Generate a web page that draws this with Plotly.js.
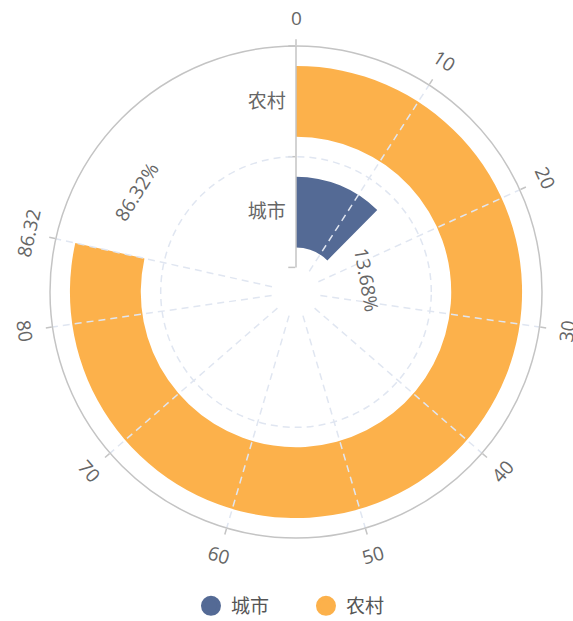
<!DOCTYPE html>
<html><head><meta charset="utf-8">
<script src="https://cdn.plot.ly/plotly-3.0.1.min.js"></script>
<style>html,body{margin:0;padding:0;background:#fff}#chart{width:573px;height:621px}</style>
</head><body><div id="chart"></div>
<script>
// ---- data ----
const categories = ['城市', '农村'];
const values = [13.68, 86.32];
const percentLabels = ['13.68%', '86.32%'];
const angleTicks = [0, 10, 20, 30, 40, 50, 60, 70, 80, 86.32];
const angleTickLabels = ['0', '10', '20', '30', '40', '50', '60', '70', '80', '86.32'];
const angleAxisMax = 110;

// ---- styling / geometry ----
const W = 573, H = 621;
const CX = 296, CY = 292, R = 246, HOLE = 0.1;
const colors = ['#546a95', '#fcb14b'];
const font = "'Open Sans','Noto Sans CJK SC',sans-serif";
const textColor = '#666';
const axisColor = '#c4c4c4';
const gridColor = '#e0e6f1';
const barFrac = 0.64;
const tickLabelRadiusPx = 274;
const labelRadiusPx = [72, 188];
const labelOffsetDeg = [35.3, 19.5];

const deg = v => v * 360 / angleAxisMax;
const domain = {x: [(CX - R) / W, (CX + R) / W], y: [1 - (CY + R) / H, 1 - (CY - R) / H]};
function toPaper(rpx, a) {
  const t = a * Math.PI / 180;
  return {x: (CX + rpx * Math.sin(t)) / W, y: 1 - (CY - rpx * Math.cos(t)) / H};
}
function upright(a) {
  let r = ((a % 360) + 360) % 360;
  if (r > 90 && r < 270) r -= 180; else if (r >= 270) r -= 360;
  return r;
}

const traces = [];
categories.forEach((c, i) => {
  traces.push({
    type: 'barpolar', subplot: 'polar', name: c, showlegend: false, hoverinfo: 'skip',
    r: [barFrac], base: [i + (1 - barFrac) / 2],
    theta: [deg(values[i]) / 2], width: [deg(values[i])],
    marker: {color: colors[i], line: {width: 0}}
  });
});
// legend entries (point placed outside the radial range, so it is clipped away)
categories.forEach((c, i) => {
  traces.push({
    type: 'scatterpolar', subplot: 'polar4', name: c, r: [50], theta: [0], mode: 'markers',
    cliponaxis: true, hoverinfo: 'skip',
    marker: {color: colors[i], size: 16, symbol: 'circle', line: {color: colors[i], width: 4}}
  });
});
traces.push({type: 'scatterpolar', subplot: 'polar2', r: [50], theta: [0], mode: 'markers', cliponaxis: true, showlegend: false, hoverinfo: 'skip'});
traces.push({type: 'scatterpolar', subplot: 'polar3', r: [50], theta: [0], mode: 'markers', cliponaxis: true, showlegend: false, hoverinfo: 'skip'});

const angBase = {rotation: 90, direction: 'clockwise', thetaunit: 'degrees', tickmode: 'array'};
const dash = '7px,5px';

const annotations = [];
angleTicks.forEach((v, i) => {
  const a = deg(v), p = toPaper(tickLabelRadiusPx, a);
  annotations.push({xref: 'paper', yref: 'paper', x: p.x, y: p.y, xanchor: 'center', yanchor: 'middle',
    text: angleTickLabels[i], showarrow: false, textangle: upright(a),
    font: {family: font, size: 19, color: textColor}});
});
values.forEach((v, i) => {
  const a = deg(v) + labelOffsetDeg[i], p = toPaper(labelRadiusPx[i], a);
  annotations.push({xref: 'paper', yref: 'paper', x: p.x, y: p.y, xanchor: 'center', yanchor: 'middle',
    text: percentLabels[i], showarrow: false, textangle: upright(a),
    font: {family: font, size: 19, color: textColor}});
});

const layout = {
  width: W, height: H, margin: {l: 0, r: 0, t: 0, b: 0, autoexpand: false},
  paper_bgcolor: '#fff', font: {family: font, color: textColor, size: 19},
  showlegend: true,
  legend: {orientation: 'h', x: 0.534, xanchor: 'center', y: 1 - 606 / H, yanchor: 'middle',
    entrywidth: 70, entrywidthmode: 'pixels',
    font: {family: font, size: 19, color: '#555'}, itemclick: false, itemdoubleclick: false},
  polar: {
    domain: domain, hole: HOLE, bgcolor: '#fff',
    angularaxis: Object.assign({}, angBase, {
      tickvals: angleTicks.map(deg), showticklabels: false, ticks: '',
      showline: false, showgrid: false}),
    radialaxis: {range: [0, 2], angle: 90, side: 'counterclockwise', tickmode: 'array',
      tickvals: [0, 1, 2], ticktext: ['', '', ''], showticklabels: false,
      ticks: 'outside', ticklen: 7, tickwidth: 1.5, tickcolor: axisColor,
      showline: true, linecolor: axisColor, linewidth: 1.5, showgrid: false}
  },
  polar2: {
    domain: domain, hole: HOLE, bgcolor: 'rgba(0,0,0,0)',
    angularaxis: Object.assign({}, angBase, {
      tickvals: angleTicks.slice(1).map(deg), showticklabels: false, ticks: '',
      showline: false, showgrid: true, gridcolor: gridColor, gridwidth: 1.5, griddash: dash}),
    radialaxis: {range: [0, 2], angle: 90, tickmode: 'array', tickvals: [0, 1], showticklabels: false,
      ticks: '', showline: false, showgrid: true, gridcolor: gridColor, gridwidth: 1.5, griddash: dash}
  },
  polar3: {
    domain: domain, hole: HOLE, bgcolor: 'rgba(0,0,0,0)',
    angularaxis: Object.assign({}, angBase, {showticklabels: false, ticks: '', showline: false, showgrid: false}),
    radialaxis: {range: [0, 2], angle: 90, side: 'counterclockwise', tickmode: 'array',
      tickvals: [0.5, 1.5], ticktext: categories, ticks: 'outside', ticklen: 3, tickcolor: 'rgba(0,0,0,0)',
      showline: false, showgrid: false,
      tickangle: 90, tickfont: {family: font, size: 19, color: textColor}}
  },
  polar4: {
    domain: domain, hole: 0, bgcolor: 'rgba(0,0,0,0)',
    angularaxis: Object.assign({}, angBase, {
      tickvals: angleTicks.map(deg), showticklabels: false,
      ticks: 'outside', ticklen: 6, tickwidth: 1.5, tickcolor: axisColor,
      showline: true, linecolor: axisColor, linewidth: 1.5, showgrid: false}),
    radialaxis: {range: [0, 2], visible: false}
  },
  annotations: annotations
};

Plotly.newPlot('chart', traces, layout, {displayModeBar: false, staticPlot: true});
</script>
</body></html>
